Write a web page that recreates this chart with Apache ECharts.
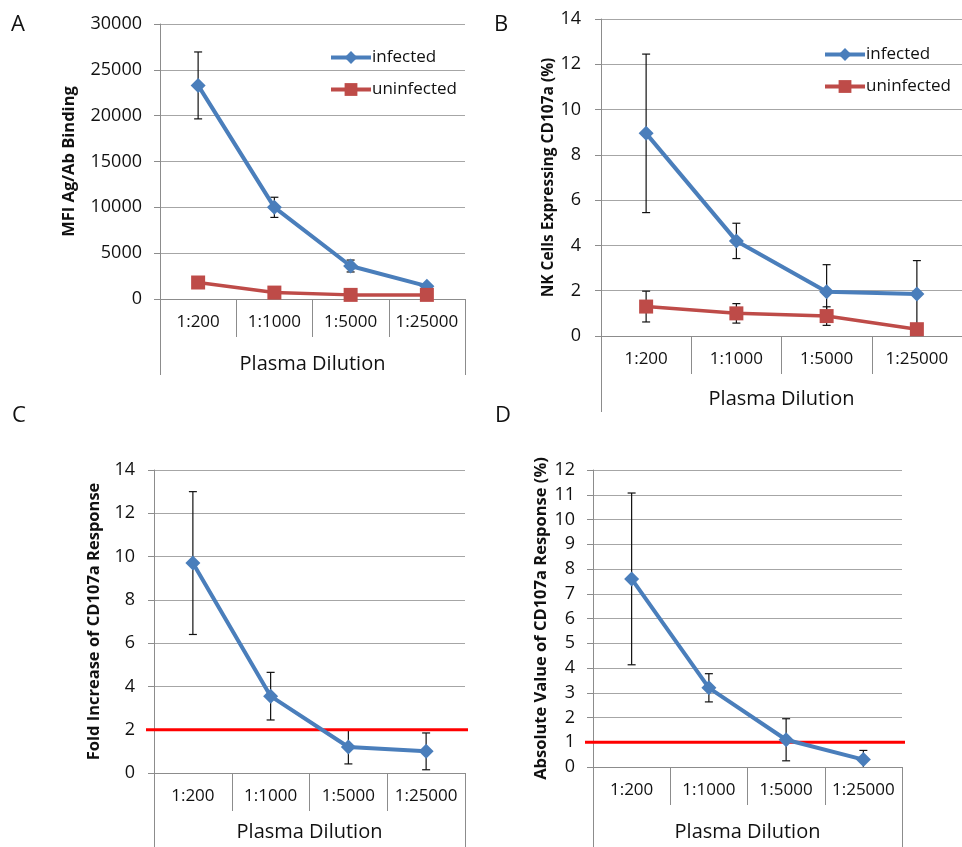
<!DOCTYPE html>
<html>
<head>
<meta charset="utf-8">
<script src="https://cdn.jsdelivr.net/npm/echarts@6/dist/echarts.min.js"></script>
<style>
html,body{margin:0;padding:0;background:#fff;}
#chart{width:962px;height:847px;}
</style>
</head>
<body>
<div id="chart"></div>
<script>
// ---- Data ----
const categories = ['1:200', '1:1000', '1:5000', '1:25000'];
const xTitle = 'Plasma Dilution';

const aInfected = [23300, 10000, 3600, 1400];
const aInfectedErr = [3650, 1100, 650, 0];
const aUninfected = [1800, 700, 450, 450];

const bInfected = [8.95, 4.2, 1.95, 1.85];
const bInfectedErr = [3.5, 0.78, 1.2, 1.48];
const bUninfected = [1.3, 1.0, 0.88, 0.3];
const bUninfectedErr = [0.68, 0.43, 0.41, 0];

const cValues = [9.7, 3.55, 1.2, 1.0];
const cErr = [3.3, 1.1, 0.78, 0.85];
const cThreshold = 2;

const dValues = [7.6, 3.2, 1.1, 0.3];
const dErr = [3.47, 0.57, 0.85, 0.37];
const dThreshold = 1;

// ---- Styles ----
const FONT = 'Open Sans';
const BLUE = '#4a7ebb';
const RED = '#be4b48';
const GRID = '#a6a6a6';
const AXIS = '#8c8c8c';

const grids = [
  {left: 160, top: 24, width: 305, height: 275},
  {left: 601, top: 19, width: 366, height: 317},
  {left: 154, top: 470, width: 311, height: 303},
  {left: 593, top: 470, width: 309, height: 297}
];
const yCfg = [
  {min: 0, max: 30000, interval: 5000, name: 'MFI Ag/Ab Binding', gap: 82, fs: 16.5},
  {min: 0, max: 14, interval: 2, name: 'NK Cells Expressing CD107a (%)', gap: 44, fs: 15.5},
  {min: 0, max: 14, interval: 2, name: 'Fold Increase of CD107a Response', gap: 51, fs: 16.5},
  {min: 0, max: 12, interval: 1, name: 'Absolute Value of CD107a Response (%)', gap: 43, fs: 16.5}
];
const outerTick = [76, 76, 80, 84];
const titleMargin = [55, 53, 49, 55];
const yLabelMargin = [18, 20, 19, 18];

const xAxes = [], yAxes = [];
grids.forEach((g, i) => {
  xAxes.push({
    type: 'category', gridIndex: i, data: categories, boundaryGap: true,
    axisLine: {show: true, lineStyle: {color: AXIS, width: 1}},
    axisTick: {show: true, length: 38, interval: 0, lineStyle: {color: AXIS}},
    axisLabel: {color: '#111', fontFamily: FONT, fontSize: 17, margin: 15, interval: 0},
    splitLine: {show: false}
  });
  xAxes.push({
    type: 'category', gridIndex: i, data: [xTitle], boundaryGap: true, position: 'bottom',
    axisLine: {show: false},
    axisTick: {show: true, length: outerTick[i], lineStyle: {color: AXIS}},
    axisLabel: {color: '#111', fontFamily: FONT, fontSize: 20, margin: titleMargin[i], interval: 0},
    splitLine: {show: false}
  });
  const y = yCfg[i];
  yAxes.push({
    type: 'value', gridIndex: i, min: y.min, max: y.max, interval: y.interval,
    name: y.name, nameLocation: 'middle', nameGap: y.gap, nameRotate: 90,
    nameTextStyle: {fontFamily: FONT, fontSize: y.fs, fontWeight: 'bold', color: '#111'},
    axisLine: {show: true, lineStyle: {color: AXIS}},
    axisTick: {show: true, length: 6, lineStyle: {color: AXIS}},
    axisLabel: {color: '#111', fontFamily: FONT, fontSize: 18, margin: yLabelMargin[i],
      formatter: function (v) { return String(v); }},
    splitLine: {show: true, lineStyle: {color: GRID, width: 1.2}}
  });
});

function errSeries(gridIdx, values, errs) {
  return {
    type: 'custom', xAxisIndex: gridIdx * 2, yAxisIndex: gridIdx, z: 1,
    silent: true, clip: true,
    data: values.map((v, k) => [k, v - errs[k], v + errs[k], errs[k]]),
    renderItem: function (params, api) {
      if (api.value(3) <= 0) return null;
      const lo = api.coord([api.value(0), api.value(1)]);
      const hi = api.coord([api.value(0), api.value(2)]);
      const cap = 4;
      const st = {stroke: '#111', lineWidth: 1.2};
      return {type: 'group', children: [
        {type: 'line', shape: {x1: lo[0], y1: lo[1], x2: hi[0], y2: hi[1]}, style: st},
        {type: 'line', shape: {x1: lo[0] - cap, y1: lo[1], x2: lo[0] + cap, y2: lo[1]}, style: st},
        {type: 'line', shape: {x1: hi[0] - cap, y1: hi[1], x2: hi[0] + cap, y2: hi[1]}, style: st}
      ]};
    }
  };
}
function lineSeries(gridIdx, name, values, color, symbol, size, width) {
  return {
    type: 'line', name: name, xAxisIndex: gridIdx * 2, yAxisIndex: gridIdx, z: 3,
    data: values, symbol: symbol, symbolSize: size, showSymbol: true,
    lineStyle: {color: color, width: width},
    itemStyle: {color: color, borderWidth: 0},
    animation: false
  };
}
function thresholdSeries(gridIdx, val) {
  return {
    type: 'custom', xAxisIndex: gridIdx * 2, yAxisIndex: gridIdx, z: 2,
    silent: true, clip: false,
    data: [[0, val]],
    renderItem: function (params, api) {
      const cs = params.coordSys;
      const p = api.coord([0, api.value(1)]);
      return {type: 'line', shape: {x1: cs.x - 8, y1: p[1], x2: cs.x + cs.width + 3, y2: p[1]},
        style: {stroke: '#ff0000', lineWidth: 3}};
    }
  };
}

const series = [
  errSeries(0, aInfected, aInfectedErr),
  lineSeries(0, 'infected', aInfected, BLUE, 'diamond', 15, 4),
  lineSeries(0, 'uninfected', aUninfected, RED, 'rect', 14, 3.5),
  errSeries(1, bInfected, bInfectedErr),
  errSeries(1, bUninfected, bUninfectedErr),
  lineSeries(1, 'infected', bInfected, BLUE, 'diamond', 15, 4),
  lineSeries(1, 'uninfected', bUninfected, RED, 'rect', 14, 3.5),
  thresholdSeries(2, cThreshold),
  errSeries(2, cValues, cErr),
  lineSeries(2, 'C', cValues, BLUE, 'diamond', 15, 4),
  thresholdSeries(3, dThreshold),
  errSeries(3, dValues, dErr),
  lineSeries(3, 'D', dValues, BLUE, 'diamond', 15, 4)
];

const legendBase = {
  orient: 'vertical', itemWidth: 40, itemHeight: 16, itemGap: 15,
  textStyle: {fontFamily: FONT, fontSize: 17, color: '#111', padding: [0, 0, 0, -4]},
  lineStyle: {width: 4},
  data: ['infected', 'uninfected'], selectedMode: false
};

const letterStyle = {fontFamily: FONT, fontSize: 22, fontWeight: 'normal', color: '#111'};

const option = {
  animation: false,
  backgroundColor: '#fff',
  title: [
    {text: 'A', left: 11, top: 14, padding: 0, textStyle: letterStyle},
    {text: 'B', left: 494, top: 14, padding: 0, textStyle: letterStyle},
    {text: 'C', left: 12, top: 405, padding: 0, textStyle: letterStyle},
    {text: 'D', left: 495, top: 405, padding: 0, textStyle: letterStyle}
  ],
  legend: [
    Object.assign({}, legendBase, {left: 324, top: 44}),
    Object.assign({}, legendBase, {left: 818, top: 41})
  ],
  grid: grids,
  xAxis: xAxes,
  yAxis: yAxes,
  series: series
};

const chart = echarts.init(document.getElementById('chart'), null, {renderer: 'canvas'});
chart.setOption(option);
</script>
</body>
</html>
